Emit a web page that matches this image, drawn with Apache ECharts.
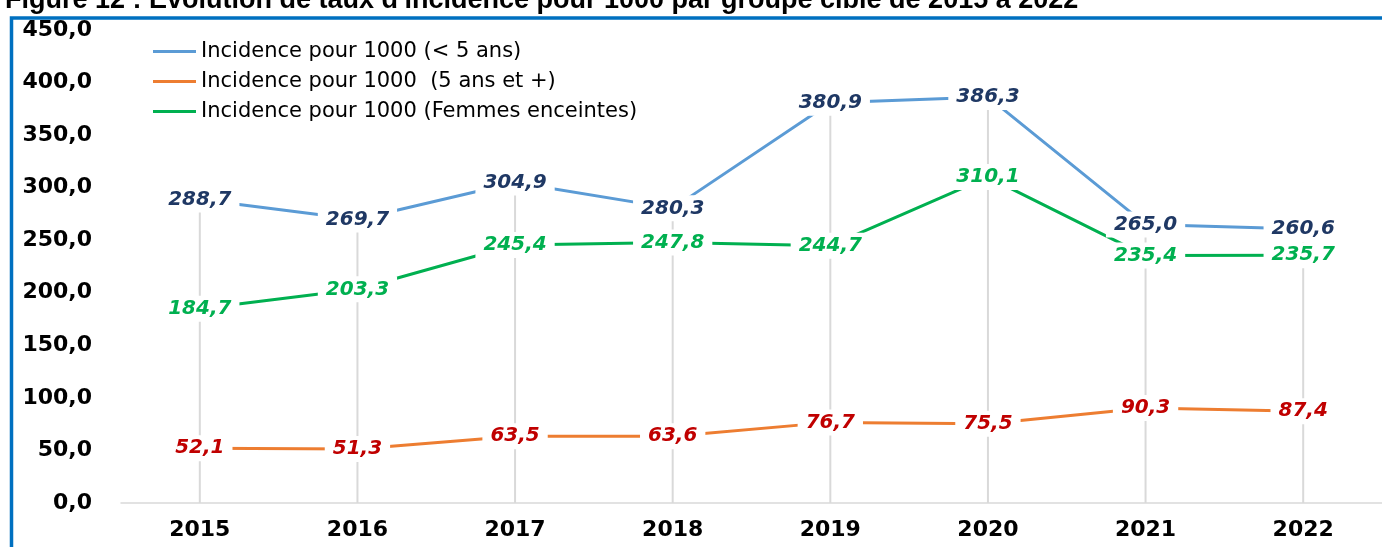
<!DOCTYPE html>
<html>
<head>
<meta charset="utf-8">
<script src="https://cdn.jsdelivr.net/npm/echarts@6/dist/echarts.min.js"></script>
<style>
  html, body { margin: 0; padding: 0; background: #fff; }
  #main { width: 1382px; height: 547px; }
</style>
</head>
<body>
<div id="main"></div>
<script>
// années
var years = ['2015', '2016', '2017', '2018', '2019', '2020', '2021', '2022'];

// incidence pour 1000 par groupe cible
var moinsCinqAns = [288.7, 269.7, 304.9, 280.3, 380.9, 386.3, 265.0, 260.6];
var cinqAnsEtPlus = [52.1, 51.3, 63.5, 63.6, 76.7, 75.5, 90.3, 87.4];
var femmesEnceintes = [184.7, 203.3, 245.4, 247.8, 244.7, 310.1, 235.4, 235.7];

var seriesNames = [
    'Incidence pour 1000 (< 5 ans)',
    'Incidence pour 1000  (5 ans et +)',
    'Incidence pour 1000 (Femmes enceintes)'
];

var titre = "Figure 12 : Evolution de taux d'incidence pour 1000 par groupe cible de 2015 à 2022";

// lignes de projection : max de chaque année
var dropLines = years.map(function (y, i) {
    return Math.max(moinsCinqAns[i], cinqAnsEtPlus[i], femmesEnceintes[i]);
});

function virgule(v) {
    return v.toFixed(1).replace('.', ',');
}

function lineSerie(name, data, lineColor, labelColor) {
    return {
        name: name,
        type: 'line',
        data: data,
        symbol: 'circle',
        symbolSize: 0.1,
        showSymbol: true,
        z: 3,
        lineStyle: { color: lineColor, width: 3 },
        itemStyle: { color: lineColor },
        label: {
            show: true,
            position: 'inside',
            formatter: function (p) { return virgule(p.value); },
            color: labelColor,
            fontFamily: 'DejaVu Sans',
            fontWeight: 'bold',
            fontStyle: 'italic',
            fontSize: 20,
            backgroundColor: '#fff',
            padding: [3, 8]
        }
    };
}

var myChart = echarts.init(document.getElementById('main'));

var option = {
    animation: false,
    title: {
        text: titre,
        left: 0,
        top: -18,
        textStyle: {
            fontFamily: 'Liberation Sans',
            fontSize: 27,
            fontWeight: 'bold',
            color: '#000'
        }
    },
    graphic: [
        {
            type: 'rect',
            shape: { x: 11.5, y: 18, width: 1500, height: 700 },
            style: { fill: '#fff', stroke: '#0070c0', lineWidth: 3.5 },
            silent: true,
            z: -1
        }
    ],
    legend: {
        data: seriesNames,
        orient: 'vertical',
        left: 148,
        top: 36,
        icon: 'rect',
        itemWidth: 43,
        itemHeight: 3,
        itemGap: 9,
        textStyle: {
            fontFamily: 'DejaVu Sans',
            fontSize: 21,
            color: '#000'
        }
    },
    grid: {
        left: 121,
        right: 0,
        top: 30,
        bottom: 44
    },
    xAxis: {
        type: 'category',
        data: years,
        axisLine: { lineStyle: { color: '#d9d9d9', width: 1.5 } },
        axisTick: { show: false },
        splitLine: { show: false },
        axisLabel: {
            margin: 16,
            color: '#000',
            fontFamily: 'DejaVu Sans',
            fontWeight: 'bold',
            fontSize: 22
        }
    },
    yAxis: {
        type: 'value',
        min: 0,
        max: 450,
        interval: 50,
        axisLine: { show: false },
        axisTick: { show: false },
        splitLine: { show: false },
        axisLabel: {
            margin: 29,
            color: '#000',
            fontFamily: 'DejaVu Sans',
            fontWeight: 'bold',
            fontSize: 22,
            formatter: function (v) { return virgule(v); }
        }
    },
    series: [
        {
            name: 'drop',
            type: 'bar',
            data: dropLines,
            barWidth: 2,
            silent: true,
            z: 1,
            itemStyle: { color: '#d9d9d9' }
        },
        lineSerie(seriesNames[0], moinsCinqAns, '#5b9bd5', '#1f3864'),
        lineSerie(seriesNames[1], cinqAnsEtPlus, '#ed7d31', '#c00000'),
        lineSerie(seriesNames[2], femmesEnceintes, '#00b050', '#00b050')
    ]
};

myChart.setOption(option);
</script>
</body>
</html>
